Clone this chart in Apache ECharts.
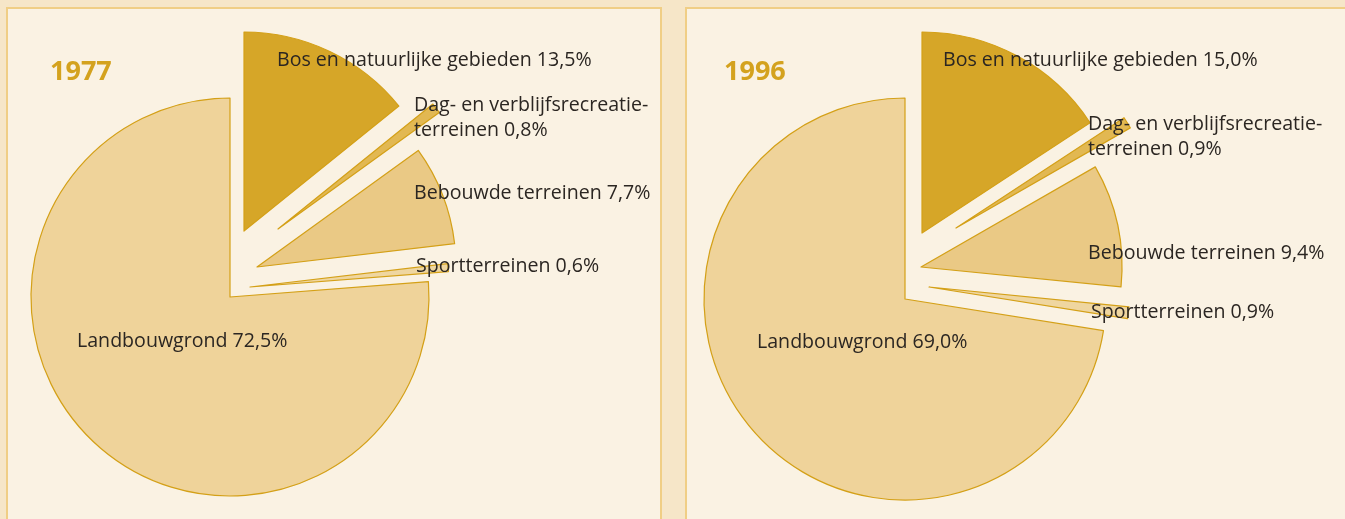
<!DOCTYPE html>
<html lang="nl">
<head>
    <meta charset="UTF-8">
    <title>Bodemgebruik 1977 en 1996</title>
    <script src="https://cdn.jsdelivr.net/npm/echarts@6/dist/echarts.min.js"></script>
    <style>
        *{
            padding:0;
            margin:0;
            box-sizing: border-box;
        }
        body{
            background:#F6E6C8;
        }
        #chart{
            width:1345px;
            height:519px;
        }
    </style>
</head>
<body>
    <div id="chart"></div>
    <script>
        // gegevens
        var years=["1977","1996"]
        var names=["Bos en natuurlijke gebieden","Dag- en verblijfsrecreatie-\nterreinen","Bebouwde terreinen","Sportterreinen","Landbouwgrond"]
        var shares1977=[13.5,0.8,7.7,0.6,72.5]
        var shares1996=[15.0,0.9,9.4,0.9,69.0]
        var shares=[shares1977,shares1996]

        // opmaak
        var colors=["#D6A628","#E2B852","#EAC985","#EFD6A0","#EFD39A"]
        var lineColor="#D4A017"
        // middelpunt van elk (uitgeschoven) stuk, per jaar
        var centers=[
            [[244,231],[278,229],[257,267],[250,287],[230,297]],
            [[922,233],[956,228],[921,267],[929,287],[905,299]]
        ]
        var radius=[199,201]
        var labelPos=[
            [[277,60],[414,118],[414,193],[416,266],[77,341]],
            [[943,60],[1088,137],[1088,253],[1091,312],[757,342]]
        ]

        function fmt(v){
            return v.toFixed(1).replace(".",",")+"%"
        }

        var myCharts=echarts.init(document.getElementById("chart"))
        var series=[]
        years.forEach(function(y,k){
            names.forEach(function(n,i){
                series.push({
                    type:"pie",
                    silent:true,
                    animation:false,
                    center:centers[k][i],
                    radius:radius[k],
                    startAngle:90,
                    clockwise:true,
                    avoidLabelOverlap:false,
                    labelLine:{show:false},
                    labelLayout:{
                        x:labelPos[k][i][0],
                        y:labelPos[k][i][1],
                        align:"left",
                        verticalAlign:"middle"
                    },
                    data:names.map(function(name,j){
                        var v=shares[k][j]
                        if(j!==i){
                            return {name:name,value:v,itemStyle:{color:"rgba(0,0,0,0)",borderWidth:0},label:{show:false}}
                        }
                        return {
                            name:name,
                            value:v,
                            itemStyle:{color:colors[j],borderColor:lineColor,borderWidth:1.2},
                            label:{
                                show:true,
                                position:"inside",
                                formatter:function(){return name+" "+fmt(v)},
                                color:"#2B2622",
                                fontFamily:"Open Sans",
                                fontSize:19.6,
                                lineHeight:25
                            }
                        }
                    })
                })
            })
        })

        var option={
            backgroundColor:"#F6E6C8",
            graphic:[
                {type:"rect",z:-10,shape:{x:7,y:8,width:654,height:530},style:{fill:"#FAF2E3",stroke:"#F0CE85",lineWidth:2}},
                {type:"rect",z:-10,shape:{x:686,y:8,width:680,height:530},style:{fill:"#FAF2E3",stroke:"#F0CE85",lineWidth:2}}
            ],
            title:years.map(function(y,k){
                return {
                    text:y,
                    left:k===0?45:719,
                    top:54,
                    textStyle:{color:"#D4A21E",fontSize:27,fontWeight:"bold",fontFamily:"Open Sans"}
                }
            }),
            series:series
        }

        myCharts.setOption(option)
        window.onresize=myCharts.resize
    </script>
</body>
</html>
